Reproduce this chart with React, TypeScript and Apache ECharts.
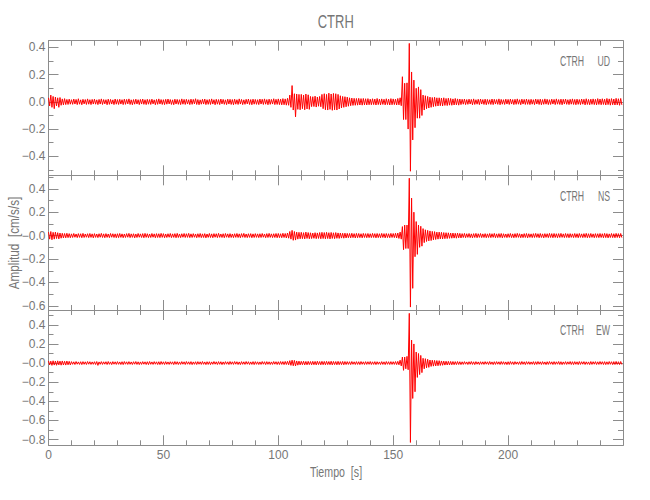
import React, { useEffect, useRef } from 'react';
import * as echarts from 'echarts';

// ---------------- data ----------------
const STATION = 'CTRH';
const COMPONENTS = ['UD', 'NS', 'EW'];
// envelope of the record in 1-second bins: peak positive / peak negative acceleration (cm/s/s)
const BIN_SECONDS = 1;
const TIME_MIN = 0;
const TIME_MAX = 250;
const TIME_STEP = 50;

const UD_HIGH = [
  0.030,0.050,0.040,0.035,0.030,0.032,0.022,0.024,0.018,0.020,
  0.016,0.021,0.018,0.023,0.015,0.019,0.017,0.022,0.016,0.018,
  0.020,0.015,0.018,0.022,0.017,0.016,0.020,0.018,0.015,0.021,
  0.017,0.019,0.016,0.020,0.018,0.022,0.015,0.017,0.020,0.016,
  0.018,0.021,0.016,0.019,0.017,0.020,0.015,0.018,0.022,0.017,
  0.016,0.019,0.021,0.017,0.015,0.020,0.018,0.016,0.022,0.018,
  0.019,0.016,0.020,0.018,0.023,0.017,0.015,0.019,0.021,0.016,
  0.018,0.022,0.016,0.019,0.017,0.021,0.018,0.015,0.020,0.019,
  0.017,0.020,0.016,0.022,0.018,0.015,0.019,0.021,0.017,0.020,
  0.018,0.016,0.021,0.019,0.022,0.017,0.020,0.018,0.023,0.019,
  0.022,0.020,0.024,0.022,0.026,0.050,0.120,0.060,0.058,0.055,
  0.055,0.050,0.058,0.052,0.040,0.038,0.042,0.036,0.040,0.055,
  0.060,0.055,0.064,0.058,0.062,0.060,0.055,0.045,0.040,0.038,
  0.035,0.030,0.028,0.026,0.025,0.026,0.024,0.025,0.023,0.024,
  0.020,0.023,0.021,0.025,0.020,0.022,0.019,0.023,0.020,0.024,
  0.022,0.020,0.025,0.030,0.185,0.137,0.140,0.430,0.220,0.160,
  0.100,0.110,0.090,0.050,0.045,0.040,0.035,0.032,0.034,0.030,
  0.030,0.028,0.030,0.025,0.027,0.025,0.022,0.025,0.022,0.021,
  0.019,0.021,0.017,0.020,0.018,0.022,0.016,0.019,0.021,0.017,
  0.020,0.018,0.016,0.021,0.019,0.017,0.022,0.018,0.016,0.020,
  0.018,0.021,0.017,0.019,0.022,0.016,0.020,0.018,0.021,0.017,
  0.019,0.016,0.021,0.018,0.020,0.017,0.022,0.019,0.016,0.020,
  0.018,0.022,0.017,0.020,0.019,0.021,0.016,0.019,0.022,0.018,
  0.020,0.017,0.021,0.019,0.023,0.018,0.020,0.022,0.019,0.024,
  0.021,0.023,0.020,0.025,0.022,0.024,0.021,0.026,0.023,0.025,
];
const UD_LOW = [
  -0.030,-0.040,-0.050,-0.030,-0.040,-0.025,-0.022,-0.020,-0.019,-0.017,
  -0.018,-0.016,-0.020,-0.017,-0.021,-0.015,-0.019,-0.017,-0.020,-0.016,
  -0.017,-0.020,-0.016,-0.019,-0.015,-0.021,-0.018,-0.016,-0.020,-0.017,
  -0.019,-0.016,-0.020,-0.018,-0.015,-0.019,-0.021,-0.017,-0.016,-0.020,
  -0.016,-0.018,-0.020,-0.017,-0.019,-0.015,-0.021,-0.018,-0.016,-0.019,
  -0.020,-0.017,-0.015,-0.019,-0.021,-0.016,-0.018,-0.020,-0.017,-0.019,
  -0.016,-0.020,-0.018,-0.015,-0.019,-0.021,-0.017,-0.016,-0.020,-0.018,
  -0.019,-0.016,-0.021,-0.017,-0.020,-0.015,-0.018,-0.020,-0.016,-0.019,
  -0.021,-0.017,-0.019,-0.016,-0.020,-0.018,-0.015,-0.019,-0.021,-0.017,
  -0.018,-0.020,-0.016,-0.019,-0.017,-0.021,-0.018,-0.016,-0.020,-0.019,
  -0.020,-0.022,-0.021,-0.024,-0.025,-0.040,-0.060,-0.110,-0.055,-0.058,
  -0.050,-0.058,-0.052,-0.055,-0.035,-0.034,-0.038,-0.032,-0.036,-0.050,
  -0.058,-0.060,-0.055,-0.062,-0.058,-0.060,-0.052,-0.045,-0.040,-0.036,
  -0.032,-0.028,-0.026,-0.025,-0.024,-0.023,-0.024,-0.022,-0.023,-0.021,
  -0.021,-0.020,-0.023,-0.020,-0.022,-0.019,-0.022,-0.020,-0.023,-0.021,
  -0.020,-0.023,-0.022,-0.028,-0.130,-0.130,-0.200,-0.510,-0.280,-0.190,
  -0.120,-0.120,-0.100,-0.060,-0.050,-0.045,-0.040,-0.035,-0.032,-0.030,
  -0.028,-0.030,-0.026,-0.027,-0.024,-0.025,-0.023,-0.022,-0.024,-0.020,
  -0.017,-0.020,-0.018,-0.016,-0.021,-0.019,-0.017,-0.020,-0.016,-0.019,
  -0.021,-0.017,-0.019,-0.020,-0.016,-0.018,-0.021,-0.017,-0.019,-0.016,
  -0.019,-0.016,-0.020,-0.018,-0.017,-0.021,-0.016,-0.019,-0.018,-0.020,
  -0.017,-0.020,-0.016,-0.019,-0.021,-0.018,-0.017,-0.020,-0.019,-0.016,
  -0.020,-0.017,-0.019,-0.021,-0.016,-0.018,-0.020,-0.017,-0.019,-0.021,
  -0.018,-0.020,-0.017,-0.022,-0.019,-0.021,-0.018,-0.020,-0.022,-0.019,
  -0.021,-0.019,-0.023,-0.020,-0.024,-0.021,-0.023,-0.022,-0.025,-0.022,
];
const NS_HIGH = [
  0.030,0.035,0.028,0.030,0.025,0.022,0.020,0.018,0.020,0.017,
  0.015,0.018,0.014,0.017,0.016,0.019,0.014,0.016,0.018,0.015,
  0.017,0.014,0.016,0.019,0.015,0.017,0.014,0.018,0.016,0.015,
  0.016,0.018,0.015,0.014,0.017,0.019,0.015,0.016,0.014,0.018,
  0.015,0.017,0.019,0.016,0.014,0.018,0.015,0.017,0.016,0.019,
  0.017,0.014,0.016,0.018,0.015,0.017,0.019,0.014,0.016,0.018,
  0.016,0.019,0.015,0.017,0.014,0.016,0.018,0.015,0.017,0.014,
  0.018,0.015,0.017,0.016,0.019,0.014,0.016,0.018,0.015,0.017,
  0.014,0.016,0.018,0.015,0.017,0.019,0.014,0.016,0.017,0.015,
  0.017,0.015,0.016,0.018,0.014,0.017,0.019,0.015,0.016,0.018,
  0.018,0.016,0.020,0.018,0.022,0.035,0.045,0.035,0.030,0.028,
  0.028,0.025,0.030,0.026,0.024,0.022,0.025,0.023,0.026,0.028,
  0.026,0.028,0.025,0.027,0.024,0.026,0.023,0.022,0.020,0.021,
  0.019,0.018,0.020,0.017,0.019,0.018,0.016,0.019,0.017,0.018,
  0.016,0.019,0.017,0.018,0.016,0.019,0.017,0.018,0.016,0.019,
  0.018,0.020,0.022,0.030,0.077,0.090,0.090,0.490,0.320,0.200,
  0.120,0.090,0.080,0.060,0.050,0.045,0.040,0.036,0.034,0.030,
  0.030,0.028,0.026,0.025,0.024,0.022,0.022,0.020,0.021,0.019,
  0.017,0.019,0.016,0.018,0.015,0.017,0.019,0.016,0.018,0.015,
  0.017,0.015,0.018,0.016,0.019,0.015,0.017,0.018,0.016,0.014,
  0.016,0.018,0.015,0.017,0.019,0.016,0.014,0.017,0.018,0.016,
  0.015,0.017,0.019,0.016,0.018,0.015,0.017,0.016,0.019,0.017,
  0.018,0.016,0.017,0.019,0.015,0.018,0.016,0.017,0.015,0.018,
  0.016,0.018,0.015,0.017,0.019,0.016,0.018,0.015,0.017,0.016,
  0.018,0.016,0.019,0.017,0.015,0.018,0.016,0.019,0.017,0.018,
];
const NS_LOW = [
  -0.030,-0.035,-0.030,-0.025,-0.028,-0.022,-0.020,-0.019,-0.017,-0.018,
  -0.016,-0.014,-0.017,-0.015,-0.018,-0.016,-0.014,-0.017,-0.015,-0.019,
  -0.015,-0.017,-0.014,-0.016,-0.018,-0.015,-0.017,-0.014,-0.016,-0.018,
  -0.017,-0.015,-0.018,-0.016,-0.014,-0.017,-0.015,-0.019,-0.016,-0.014,
  -0.016,-0.018,-0.015,-0.017,-0.016,-0.014,-0.018,-0.016,-0.017,-0.015,
  -0.018,-0.016,-0.014,-0.017,-0.015,-0.018,-0.016,-0.017,-0.014,-0.016,
  -0.015,-0.017,-0.016,-0.014,-0.018,-0.015,-0.017,-0.016,-0.019,-0.015,
  -0.016,-0.018,-0.014,-0.017,-0.015,-0.016,-0.018,-0.014,-0.017,-0.016,
  -0.017,-0.015,-0.016,-0.018,-0.014,-0.016,-0.017,-0.015,-0.018,-0.016,
  -0.015,-0.017,-0.016,-0.014,-0.018,-0.016,-0.015,-0.017,-0.016,-0.018,
  -0.017,-0.018,-0.016,-0.020,-0.022,-0.030,-0.040,-0.038,-0.030,-0.027,
  -0.026,-0.028,-0.024,-0.027,-0.025,-0.023,-0.026,-0.024,-0.027,-0.025,
  -0.027,-0.025,-0.028,-0.024,-0.026,-0.023,-0.024,-0.021,-0.022,-0.020,
  -0.018,-0.019,-0.017,-0.020,-0.018,-0.017,-0.019,-0.016,-0.018,-0.017,
  -0.017,-0.016,-0.019,-0.017,-0.018,-0.016,-0.019,-0.017,-0.018,-0.016,
  -0.017,-0.020,-0.024,-0.030,-0.120,-0.110,-0.110,-0.610,-0.450,-0.180,
  -0.160,-0.100,-0.090,-0.060,-0.050,-0.045,-0.042,-0.036,-0.033,-0.030,
  -0.028,-0.029,-0.026,-0.025,-0.023,-0.022,-0.021,-0.022,-0.019,-0.020,
  -0.016,-0.018,-0.015,-0.017,-0.019,-0.016,-0.018,-0.015,-0.017,-0.016,
  -0.018,-0.016,-0.017,-0.015,-0.018,-0.017,-0.016,-0.019,-0.015,-0.017,
  -0.015,-0.017,-0.018,-0.016,-0.015,-0.018,-0.017,-0.016,-0.019,-0.015,
  -0.017,-0.016,-0.015,-0.018,-0.016,-0.019,-0.015,-0.017,-0.016,-0.018,
  -0.016,-0.018,-0.016,-0.015,-0.017,-0.016,-0.018,-0.015,-0.017,-0.016,
  -0.018,-0.015,-0.017,-0.016,-0.018,-0.017,-0.015,-0.018,-0.016,-0.017,
  -0.016,-0.018,-0.017,-0.019,-0.016,-0.017,-0.018,-0.016,-0.018,-0.017,
];
const EW_HIGH = [
  0.022,0.020,0.024,0.021,0.023,0.020,0.022,0.019,0.021,0.018,
  0.015,0.013,0.016,0.012,0.014,0.015,0.013,0.016,0.014,0.012,
  0.014,0.016,0.012,0.015,0.013,0.014,0.016,0.012,0.015,0.013,
  0.015,0.012,0.014,0.016,0.013,0.015,0.012,0.014,0.016,0.013,
  0.012,0.015,0.013,0.014,0.016,0.012,0.015,0.013,0.014,0.016,
  0.013,0.015,0.012,0.014,0.013,0.016,0.014,0.012,0.015,0.013,
  0.016,0.013,0.015,0.012,0.014,0.015,0.013,0.016,0.012,0.014,
  0.014,0.012,0.016,0.013,0.015,0.014,0.012,0.015,0.013,0.016,
  0.013,0.016,0.014,0.012,0.015,0.013,0.016,0.014,0.012,0.015,
  0.015,0.013,0.012,0.016,0.014,0.015,0.013,0.012,0.016,0.014,
  0.014,0.016,0.015,0.017,0.018,0.025,0.030,0.028,0.022,0.020,
  0.018,0.019,0.017,0.018,0.016,0.018,0.017,0.019,0.016,0.018,
  0.017,0.018,0.016,0.019,0.017,0.016,0.018,0.015,0.017,0.016,
  0.015,0.014,0.016,0.013,0.015,0.014,0.016,0.013,0.015,0.014,
  0.016,0.013,0.015,0.014,0.012,0.015,0.013,0.016,0.014,0.015,
  0.014,0.016,0.018,0.030,0.063,0.063,0.070,0.520,0.240,0.200,
  0.115,0.100,0.080,0.050,0.046,0.040,0.032,0.030,0.028,0.026,
  0.025,0.022,0.020,0.019,0.018,0.017,0.016,0.015,0.016,0.014,
  0.013,0.015,0.012,0.014,0.016,0.013,0.015,0.012,0.014,0.013,
  0.015,0.013,0.016,0.012,0.014,0.015,0.013,0.016,0.014,0.012,
  0.014,0.016,0.013,0.015,0.012,0.014,0.016,0.013,0.015,0.014,
  0.012,0.015,0.014,0.016,0.013,0.015,0.012,0.014,0.016,0.013,
  0.015,0.013,0.016,0.014,0.012,0.015,0.013,0.016,0.014,0.015,
  0.013,0.016,0.014,0.015,0.013,0.012,0.016,0.014,0.015,0.013,
  0.016,0.014,0.015,0.013,0.016,0.014,0.015,0.017,0.014,0.016,
];
const EW_LOW = [
  -0.020,-0.024,-0.021,-0.023,-0.019,-0.022,-0.020,-0.021,-0.018,-0.019,
  -0.013,-0.015,-0.012,-0.014,-0.016,-0.013,-0.015,-0.012,-0.014,-0.013,
  -0.015,-0.024,-0.013,-0.014,-0.012,-0.015,-0.013,-0.016,-0.012,-0.014,
  -0.013,-0.015,-0.016,-0.012,-0.014,-0.013,-0.015,-0.012,-0.014,-0.016,
  -0.014,-0.012,-0.015,-0.016,-0.013,-0.014,-0.012,-0.015,-0.016,-0.013,
  -0.015,-0.013,-0.014,-0.012,-0.016,-0.013,-0.015,-0.014,-0.012,-0.015,
  -0.012,-0.014,-0.016,-0.013,-0.015,-0.012,-0.014,-0.013,-0.016,-0.014,
  -0.016,-0.013,-0.012,-0.015,-0.013,-0.016,-0.014,-0.012,-0.015,-0.013,
  -0.014,-0.012,-0.015,-0.016,-0.013,-0.014,-0.012,-0.015,-0.014,-0.016,
  -0.013,-0.015,-0.014,-0.012,-0.016,-0.013,-0.015,-0.014,-0.012,-0.015,
  -0.015,-0.014,-0.016,-0.015,-0.018,-0.024,-0.028,-0.030,-0.022,-0.019,
  -0.017,-0.019,-0.018,-0.016,-0.018,-0.017,-0.019,-0.016,-0.018,-0.017,
  -0.018,-0.016,-0.017,-0.019,-0.016,-0.018,-0.017,-0.016,-0.018,-0.015,
  -0.014,-0.016,-0.013,-0.015,-0.014,-0.016,-0.013,-0.015,-0.014,-0.013,
  -0.015,-0.014,-0.016,-0.013,-0.015,-0.014,-0.016,-0.013,-0.015,-0.014,
  -0.014,-0.016,-0.018,-0.030,-0.076,-0.060,-0.070,-0.830,-0.370,-0.300,
  -0.150,-0.120,-0.100,-0.060,-0.050,-0.045,-0.035,-0.032,-0.030,-0.028,
  -0.025,-0.023,-0.021,-0.020,-0.019,-0.018,-0.017,-0.016,-0.015,-0.016,
  -0.014,-0.012,-0.015,-0.013,-0.014,-0.016,-0.012,-0.015,-0.013,-0.014,
  -0.012,-0.015,-0.013,-0.016,-0.014,-0.012,-0.015,-0.013,-0.014,-0.016,
  -0.015,-0.013,-0.016,-0.012,-0.014,-0.015,-0.013,-0.016,-0.012,-0.014,
  -0.013,-0.016,-0.014,-0.012,-0.015,-0.013,-0.016,-0.014,-0.012,-0.015,
  -0.014,-0.012,-0.015,-0.016,-0.013,-0.014,-0.012,-0.015,-0.016,-0.013,
  -0.016,-0.014,-0.012,-0.015,-0.013,-0.016,-0.014,-0.012,-0.015,-0.014,
  -0.013,-0.015,-0.016,-0.014,-0.013,-0.016,-0.015,-0.014,-0.016,-0.015,
];

// y-axis ranges and tick marks per component
const UD_RANGE = [-0.54, 0.45];
const NS_RANGE = [-0.635, 0.515];
const EW_RANGE = [-0.86, 0.555];
const UD_MAJOR = [-0.4, -0.2, 0, 0.2, 0.4];
const UD_LABELS = ['\u22120.4', '\u22120.2', '0.0', '0.2', '0.4'];
const UD_MINOR = [-0.5, -0.3, -0.1, 0.1, 0.3];
const NS_MAJOR = [-0.6, -0.4, -0.2, 0, 0.2, 0.4];
const NS_LABELS = ['\u22120.6', '\u22120.4', '\u22120.2', '\u22120.0', '0.2', '0.4'];
const NS_MINOR = [-0.5, -0.3, -0.1, 0.1, 0.3, 0.5];
const EW_MAJOR = [-0.8, -0.6, -0.4, -0.2, 0, 0.2, 0.4];
const EW_LABELS = ['\u22120.8', '\u22120.6', '\u22120.4', '\u22120.2', '\u22120.0', '0.2', '0.4'];
const EW_MINOR = [-0.7, -0.5, -0.3, -0.1, 0.1, 0.3, 0.5];

const Y_TITLE = 'Amplitud  [cm/s/s]';
const X_TITLE = 'Tiempo  [s]';

// ---------------- styling / layout ----------------
const AXIS_COLOR = '#8c8c8c';
const TEXT_COLOR = '#767676';
const TRACE_COLOR = '#ff0000';
const FONT = "'Liberation Sans', sans-serif";
const PLOT_LEFT = 48.5;
const PLOT_RIGHT = 623;
const PANEL_TOPS = [40.7, 175.3, 310];
const PANEL_HEIGHTS = [134.6, 134.7, 135.3];

function buildTrace(high: number[], low: number[]) {
  const pts: number[][] = [];
  for (let i = 0; i < high.length; i++) {
    const t = TIME_MIN + i * BIN_SECONDS;
    pts.push([t, high[i]]);
    pts.push([t + BIN_SECONDS / 2, low[i]]);
  }
  return pts;
}

function label(text: string, x: number, y: number, size: number, sx: number, align: string, rotation = 0) {
  return {
    type: 'text',
    x,
    y,
    rotation,
    scaleX: sx,
    scaleY: 1,
    style: {
      text,
      font: `${size}px ${FONT}`,
      fill: TEXT_COLOR,
      align,
      verticalAlign: 'middle',
      textAlign: align,
      textVerticalAlign: 'middle',
    },
  };
}

export default function App() {
  const ref = useRef<HTMLDivElement>(null);

  useEffect(() => {
    document.body.style.margin = '0';
    if (!ref.current) return;
    const chart = echarts.init(ref.current, undefined, { renderer: 'svg' });

    const panels = [
      { high: UD_HIGH, low: UD_LOW, range: UD_RANGE, major: UD_MAJOR, labels: UD_LABELS, minor: UD_MINOR },
      { high: NS_HIGH, low: NS_LOW, range: NS_RANGE, major: NS_MAJOR, labels: NS_LABELS, minor: NS_MINOR },
      { high: EW_HIGH, low: EW_LOW, range: EW_RANGE, major: EW_MAJOR, labels: EW_LABELS, minor: EW_MINOR },
    ];
    const width = PLOT_RIGHT - PLOT_LEFT;

    const grid: any[] = [];
    const xAxis: any[] = [];
    const yAxis: any[] = [];
    const series: any[] = [];
    const graphic: any[] = [];

    panels.forEach((p, g) => {
      grid.push({ left: PLOT_LEFT, top: PANEL_TOPS[g], width, height: PANEL_HEIGHTS[g], containLabel: false });
      ['bottom', 'top'].forEach((pos) => {
        xAxis.push({
          gridIndex: g,
          type: 'value',
          position: pos,
          min: TIME_MIN,
          max: TIME_MAX,
          interval: TIME_STEP,
          axisLine: { show: true, onZero: false, lineStyle: { color: AXIS_COLOR, width: 1 } },
          axisTick: { show: true, inside: true, length: 10, lineStyle: { color: AXIS_COLOR, width: 1 } },
          minorTick: { show: true, splitNumber: 5, length: 5, lineStyle: { color: AXIS_COLOR, width: 1 } },
          axisLabel: {
            show: g === 2 && pos === 'bottom',
            showMaxLabel: false,
            color: TEXT_COLOR,
            fontSize: 12,
            fontFamily: FONT,
            margin: 4,
          },
          splitLine: { show: false },
          minorSplitLine: { show: false },
        });
      });
      const fmt = (v: number) => {
        const k = p.major.findIndex((m) => Math.abs(m - v) < 1e-6);
        return k >= 0 ? p.labels[k] : '';
      };
      const yBase = (pos: string, major: boolean, labels: boolean, line: boolean) => ({
        gridIndex: g,
        type: 'value',
        position: pos,
        min: p.range[0],
        max: p.range[1],
        axisLine: { show: line, onZero: false, lineStyle: { color: AXIS_COLOR, width: 1 } },
        axisTick: {
          show: true,
          inside: true,
          length: major ? 10 : 5,
          customValues: major ? p.major : p.minor,
          lineStyle: { color: AXIS_COLOR, width: 1 },
        },
        axisLabel: {
          show: labels,
          customValues: p.major,
          formatter: fmt,
          color: TEXT_COLOR,
          fontSize: 12,
          fontFamily: FONT,
          margin: 3,
        },
        splitLine: { show: false },
      });
      yAxis.push(yBase('left', true, true, true));
      yAxis.push(yBase('left', false, false, false));
      yAxis.push(yBase('right', true, false, true));
      yAxis.push(yBase('right', false, false, false));

      series.push({
        type: 'line',
        xAxisIndex: g * 2,
        yAxisIndex: g * 4,
        data: buildTrace(p.high, p.low),
        showSymbol: false,
        symbol: 'none',
        clip: true,
        silent: true,
        lineStyle: { color: TRACE_COLOR, width: 1 },
      });

      const cy = PANEL_TOPS[g] + 20.5;
      graphic.push(label(STATION, 560, cy, 15, 0.58, 'left'));
      graphic.push(label(COMPONENTS[g], 610, cy, 15, 0.58, 'right'));
    });

    graphic.push(label(STATION, (PLOT_LEFT + PLOT_RIGHT) / 2, 21.5, 18, 0.72, 'center'));
    graphic.push(label(Y_TITLE, 14, 243, 14, 0.84, 'center', Math.PI / 2));
    graphic.push(label(X_TITLE, 336, 472, 14, 0.76, 'center'));

    chart.setOption({
      animation: false,
      backgroundColor: '#ffffff',
      grid,
      xAxis,
      yAxis,
      series,
      graphic,
    });

    return () => chart.dispose();
  }, []);

  return <div ref={ref} style={{ width: 650, height: 500 }} />;
}
